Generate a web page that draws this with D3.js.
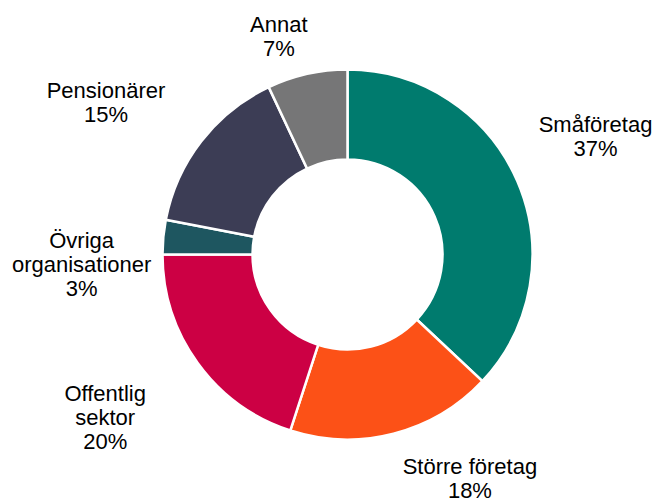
<html>
<head>
	<meta charset='utf-8' />
	<title>Fördelning</title>
	<script src="https://cdn.jsdelivr.net/npm/d3@7"></script>
	<style>
	body { margin: 0; background: #fff; }
	.label { font-family: "Liberation Sans", Arial, sans-serif; font-size: 22px; fill: #000; }
	</style>
</head>
<body>
<script>

	var width = 657, height = 498;

	// data, clockwise from 12 o'clock
	var categories = ["Småföretag", "Större företag", "Offentlig sektor", "Övriga organisationer", "Pensionärer", "Annat"];
	var shares = [37, 18, 20, 3, 15, 7];
	// label text lines (category split as in the chart)
	var labelLines = [["Småföretag"], ["Större företag"], ["Offentlig", "sektor"], ["Övriga", "organisationer"], ["Pensionärer"], ["Annat"]];
	var colors = ["#007b6e", "#fc5117", "#cc0044", "#1e5660", "#3c3d55", "#767677"];

	var cx = 347.5, cy = 254.5;
	var outerR = 185, innerR = 95, labelR = 255;
	// Excel moves the outside labels a bit
	var nudge = [[14, -17], [59, -23], [-36, 13], [-12, 33], [-40, 4], [-13, 30]];
	var lineH = 24;

	var data = categories.map(function(c, i) { return {name: c, value: shares[i], lines: labelLines[i], i: i}; });

	var svg = d3.select("body").append("svg")
		.attr("width", width)
		.attr("height", height);

	var g = svg.append("g").attr("transform", "translate(" + cx + "," + cy + ")");

	var pie = d3.pie().sort(null).value(function(d) { return d.value; });
	var arc = d3.arc().innerRadius(innerR).outerRadius(outerR);
	var labelArc = d3.arc().innerRadius(labelR).outerRadius(labelR);

	var color = d3.scaleOrdinal().domain(categories).range(colors);

	var arcs = pie(data);

	g.selectAll("path.slice")
		.data(arcs)
		.enter().append("path")
		.attr("class", "slice")
		.attr("d", arc)
		.attr("fill", function(d) { return color(d.data.name); })
		.attr("stroke", "#fff")
		.attr("stroke-width", 2.5)
		.attr("stroke-linejoin", "miter");

	var labels = g.selectAll("text.label")
		.data(arcs)
		.enter().append("text")
		.attr("class", "label")
		.attr("text-anchor", "middle")
		.attr("transform", function(d) {
			var c = labelArc.centroid(d);
			var n = nudge[d.data.i];
			return "translate(" + (c[0] + n[0]) + "," + (c[1] + n[1]) + ")";
		});

	labels.each(function(d) {
		var lines = d.data.lines.concat([d.data.value + "%"]);
		var t = d3.select(this);
		var y0 = -(lines.length - 1) * lineH / 2 + 8;
		lines.forEach(function(l, k) {
			t.append("tspan").attr("x", 0).attr("y", y0 + k * lineH).text(l);
		});
	});

</script>
</body>
</html>
